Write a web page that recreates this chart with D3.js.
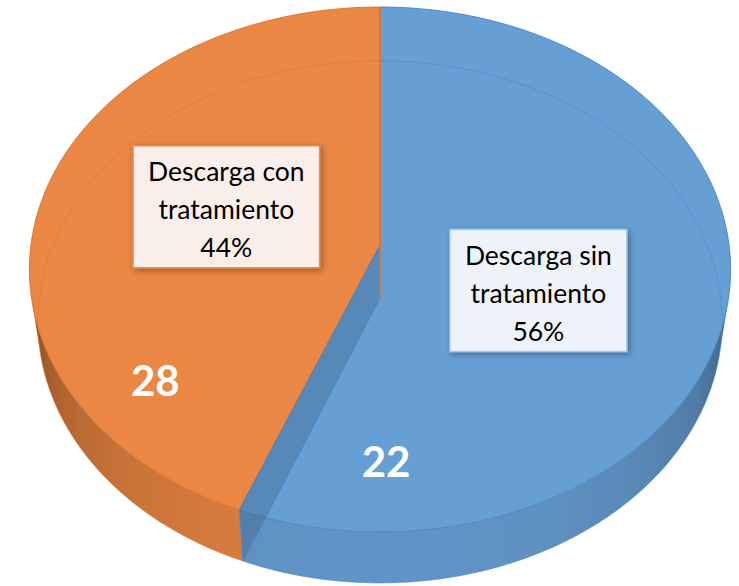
<!DOCTYPE html>
<html>
<head>
<meta charset="utf-8">
<script src="https://cdn.jsdelivr.net/npm/d3@7"></script>
<style>
  html, body { margin: 0; padding: 0; background: #fff; }
</style>
</head>
<body>
<div id="chart-area"></div>
<script>
// Data
const categories = ['Descarga sin tratamiento', 'Descarga con tratamiento'];
const percentValues = [56, 44];
const countLabels = ['22', '28'];

// Colours per slice
const topColors = ['#659FD4', '#EA8744'];
const edgeColors = ['#4A86C5', '#E0742C'];
const wallLight = ['#6194C6', '#DA7E3F'];
const wallDark = ['#2C4864', '#5E3212'];
const boxFill = ['#EEF3FA', '#F9EEE9'];
const boxStroke = ['#A8C7E8', '#EE8A48'];

// Size
const width = 739;
const height = 586;

// 3D projection settings (perspective view of a tilted disc)
const view = { cx: 380, cy: 245, focal: 2492, dist: 7.14, tilt: 48.2 * Math.PI / 180, thick: 0.234 };
const sinP = Math.sin(view.tilt);
const cosP = Math.cos(view.tilt);

function project(theta, r, h) {
    const x = r * Math.sin(theta);
    const z = -r * Math.cos(theta);
    const depth = view.dist - h * sinP - z * cosP;
    return [view.cx + view.focal * x / depth,
            view.cy - view.focal * (h * cosP - z * sinP) / depth];
}

const rad = d3.scaleLinear().domain([0, 360]).range([0, 2 * Math.PI]);
const step = rad(0.5);
const line = d3.line();

function arcPoints(a0, a1, r, h) {
    const pts = [];
    const n = Math.max(2, Math.ceil((a1 - a0) / step));
    for (let i = 0; i <= n; i++) pts.push(project(a0 + (a1 - a0) * i / n, r, h));
    return pts;
}

// Pie layout
const pie = d3.pie().sort(null).value((d) => d);
const arcs = pie(percentValues);

const svg = d3.select('#chart-area')
    .append('svg')
    .attr('width', width)
    .attr('height', height);

const defs = svg.append('defs');
defs.append('filter')
    .attr('id', 'shadow')
    .attr('x', '-20%').attr('y', '-20%')
    .attr('width', '140%').attr('height', '140%')
    .append('feDropShadow')
    .attr('dx', 2).attr('dy', 2)
    .attr('stdDeviation', 3)
    .attr('flood-color', '#000')
    .attr('flood-opacity', 0.35);

// Walls: only the angles facing the camera are drawn
const faceLimit = -1 / (view.dist * cosP);
const frontFrom = Math.acos(faceLimit);
const frontTo = 2 * Math.PI - frontFrom;
const xRight = project(frontFrom, 1, 0)[0];
const xLeft = project(frontTo, 1, 0)[0];

arcs.forEach((d, i) => {
    const grad = defs.append('linearGradient')
        .attr('id', 'wall' + i)
        .attr('gradientUnits', 'userSpaceOnUse')
        .attr('x1', xLeft).attr('y1', 0)
        .attr('x2', xRight).attr('y2', 0);
    d3.range(0, 41).forEach((k) => {
        const a = frontTo - (frontTo - frontFrom) * k / 40;
        const t = Math.pow((-Math.cos(a) + faceLimit) / (1 + faceLimit), 0.4);
        grad.append('stop')
            .attr('offset', (project(a, 1, 0)[0] - xLeft) / (xRight - xLeft))
            .attr('stop-color', d3.interpolateRgb(wallDark[i], wallLight[i])(t));
    });
});

const walls = svg.append('g').attr('class', 'walls');
arcs.forEach((d, i) => {
    const lo = Math.max(d.startAngle, frontFrom);
    const hi = Math.min(d.endAngle, frontTo);
    if (hi <= lo) return;
    const pts = arcPoints(lo, hi, 1, 0).concat(arcPoints(lo, hi, 1, -view.thick).reverse());
    walls.append('path')
        .attr('d', line(pts) + 'Z')
        .attr('fill', 'url(#wall' + i + ')')
        .attr('stroke', 'none');
    walls.append('path')
        .attr('d', line(arcPoints(lo, hi, 1, -view.thick)))
        .attr('fill', 'none')
        .attr('stroke', edgeColors[i])
        .attr('stroke-opacity', 0.6)
        .attr('stroke-width', 1);
});

// Top faces
svg.append('g')
    .attr('class', 'tops')
    .selectAll('path')
    .data(arcs)
    .enter()
    .append('path')
    .attr('d', (d) => line([project(0, 0, 0)].concat(arcPoints(d.startAngle, d.endAngle, 1, 0))) + 'Z')
    .attr('fill', (d, i) => topColors[i])
    .attr('stroke', (d, i) => edgeColors[i])
    .attr('stroke-width', 1)
    .attr('stroke-linejoin', 'round');

// Hidden bottom rim seen through the top
arcs.forEach((d, i) => {
    const ranges = [[d.startAngle, Math.min(d.endAngle, frontFrom)],
                    [Math.max(d.startAngle, frontTo), d.endAngle]];
    ranges.forEach((r) => {
        if (r[1] > r[0]) {
            svg.append('path')
                .attr('d', line(arcPoints(r[0], r[1], 1, -view.thick)))
                .attr('fill', 'none')
                .attr('stroke', edgeColors[i])
                .attr('stroke-opacity', 0.55)
                .attr('stroke-width', 1);
        }
    });
});

// Cut faces at the end of each slice
svg.append('g')
    .attr('class', 'cuts')
    .selectAll('path')
    .data(arcs)
    .enter()
    .append('path')
    .attr('d', (d) => line([
        project(0, 0, 0), project(d.endAngle, 1, 0),
        project(d.endAngle, 1, -view.thick), project(0, 0, -view.thick)]) + 'Z')
    .attr('fill', (d, i) => wallDark[i])
    .attr('fill-opacity', 0.25)
    .attr('stroke', (d, i) => edgeColors[i])
    .attr('stroke-width', 1);

// Category labels
const labelShift = rad(9);
const labels = svg.append('g').attr('class', 'labels');
arcs.forEach((d, i) => {
    const mid = (d.startAngle + d.endAngle) / 2 + labelShift;
    const p = project(mid, 0.475, 0);
    const name = categories[i];
    const cut = name.lastIndexOf(' ');
    const lines = [name.slice(0, cut), name.slice(cut + 1), percentValues[i] + '%'];

    const g = labels.append('g').attr('transform', 'translate(' + p[0] + ', ' + (p[1] + 3) + ')');
    const rect = g.append('rect');
    const texts = g.selectAll('text')
        .data(lines)
        .enter()
        .append('text')
        .attr('x', 0)
        .attr('y', (l, k) => -26 + k * 38)
        .attr('text-anchor', 'middle')
        .attr('font-family', 'Lato, "Open Sans", sans-serif')
        .attr('font-size', '26.5px')
        .attr('fill', '#000')
        .text((l) => l);

    let w = 0;
    texts.each(function () { w = Math.max(w, this.getComputedTextLength()); });
    w += 30;
    rect.attr('x', -w / 2)
        .attr('y', -61)
        .attr('width', w)
        .attr('height', 122)
        .attr('fill', boxFill[i])
        .attr('stroke', boxStroke[i])
        .attr('stroke-width', 1.5)
        .attr('filter', 'url(#shadow)');
});

// Count labels inside the slices
const countPos = [{ angle: 178.8, r: 0.774 }, { angle: 231, r: 0.79 }];
svg.append('g')
    .attr('class', 'counts')
    .selectAll('text')
    .data(countLabels)
    .enter()
    .append('text')
    .attr('x', (c, i) => project(rad(countPos[i].angle), countPos[i].r, 0)[0])
    .attr('y', (c, i) => project(rad(countPos[i].angle), countPos[i].r, 0)[1] + 15)
    .attr('text-anchor', 'middle')
    .attr('font-family', 'Lato, "Open Sans", sans-serif')
    .attr('font-weight', 'bold')
    .attr('font-size', '42px')
    .attr('fill', '#fff')
    .text((c) => c);
</script>
</body>
</html>
